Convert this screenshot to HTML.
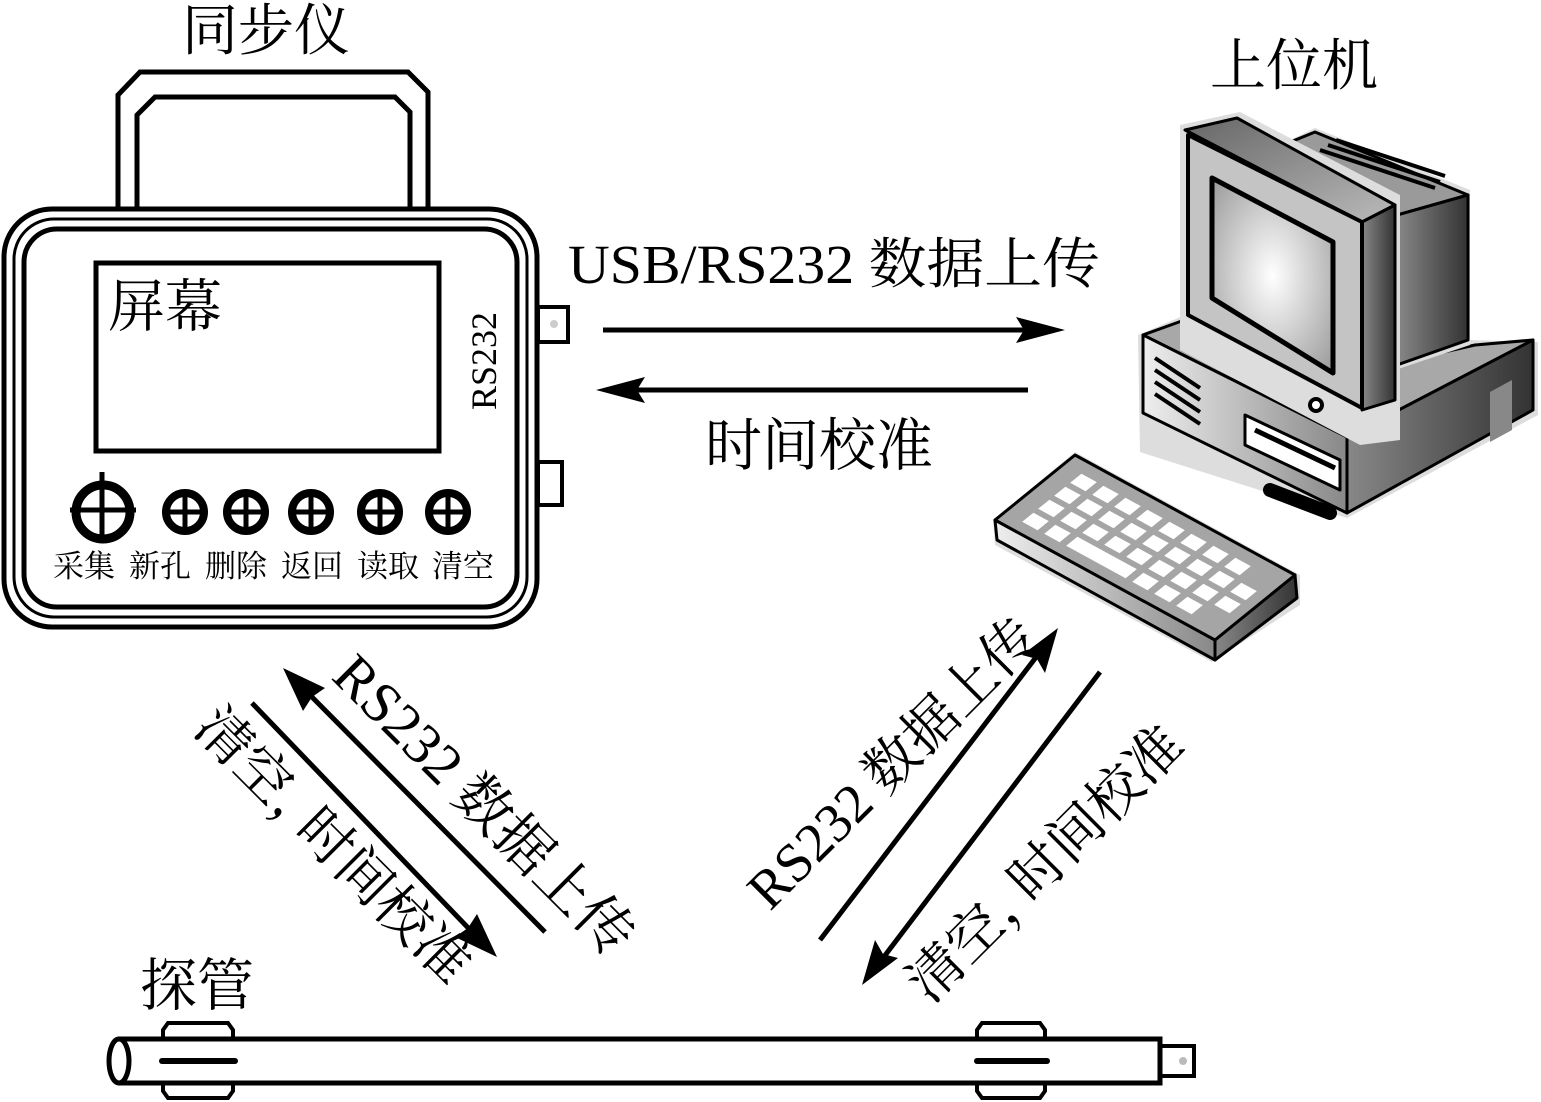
<!DOCTYPE html>
<html><head><meta charset="utf-8"><style>
html,body{margin:0;padding:0;background:#fff;}
svg{display:block;}
text{font-family:"Liberation Serif","Noto Serif CJK SC","Noto Sans CJK SC",serif;fill:#000;}
</style></head><body>
<svg width="1541" height="1102" viewBox="0 0 1541 1102" xmlns="http://www.w3.org/2000/svg">
<defs>
<radialGradient id="scr" cx="0.5" cy="0.5" r="0.7"><stop offset="0" stop-color="#fff"/><stop offset="1" stop-color="#999"/></radialGradient>
<linearGradient id="g3" x1="0" y1="0" x2="1" y2="0"><stop offset="0" stop-color="#888"/><stop offset="1" stop-color="#333"/></linearGradient>
<linearGradient id="g4" x1="0" y1="0" x2="1" y2="0"><stop offset="0" stop-color="#eee"/><stop offset="1" stop-color="#888"/></linearGradient>
<linearGradient id="g5" x1="0" y1="0" x2="1" y2="1"><stop offset="0" stop-color="#666"/><stop offset="1" stop-color="#bbb"/></linearGradient>
</defs>

<path d="M118 212 V95 L140 72 H408 L428 92 V212" fill="none" stroke="#000" stroke-width="5"/>
<path d="M137 212 V115 L155 97 H395 L410 112 V212" fill="none" stroke="#000" stroke-width="5"/>
<rect x="4" y="209" width="533" height="418" rx="48" fill="#fff" stroke="#000" stroke-width="5"/>
<rect x="14" y="219" width="513" height="398" rx="40" fill="none" stroke="#000" stroke-width="3"/>
<rect x="24" y="229" width="493" height="378" rx="33" fill="none" stroke="#000" stroke-width="5"/>
<rect x="96" y="263" width="343" height="188" fill="#fff" stroke="#000" stroke-width="5"/>
<text x="108" y="326" font-size="57">屏幕</text>
<text transform="translate(496,410) rotate(-90)" font-size="36">RS232</text>
<rect x="538" y="307" width="30" height="35" fill="#fff" stroke="#000" stroke-width="4"/>
<circle cx="554" cy="324" r="4" fill="#ccc"/>
<rect x="538" y="462" width="24" height="43" fill="#fff" stroke="#000" stroke-width="4"/>
<g stroke="#000" fill="none">
<circle cx="103" cy="512" r="27" stroke-width="9"/>
<line x1="70" y1="510" x2="136" y2="510" stroke-width="5"/>
<line x1="102" y1="472" x2="102" y2="540" stroke-width="5"/>
</g>
<g stroke="#000">
<g><circle cx="185" cy="512" r="19" fill="#fff" stroke-width="8"/><line x1="167" y1="512" x2="203" y2="512" stroke-width="5"/><line x1="185" y1="494" x2="185" y2="530" stroke-width="5"/></g>
<g><circle cx="246" cy="512" r="19" fill="#fff" stroke-width="8"/><line x1="228" y1="512" x2="264" y2="512" stroke-width="5"/><line x1="246" y1="494" x2="246" y2="530" stroke-width="5"/></g>
<g><circle cx="311" cy="512" r="19" fill="#fff" stroke-width="8"/><line x1="293" y1="512" x2="329" y2="512" stroke-width="5"/><line x1="311" y1="494" x2="311" y2="530" stroke-width="5"/></g>
<g><circle cx="380" cy="512" r="19" fill="#fff" stroke-width="8"/><line x1="362" y1="512" x2="398" y2="512" stroke-width="5"/><line x1="380" y1="494" x2="380" y2="530" stroke-width="5"/></g>
<g><circle cx="448" cy="512" r="19" fill="#fff" stroke-width="8"/><line x1="430" y1="512" x2="466" y2="512" stroke-width="5"/><line x1="448" y1="494" x2="448" y2="530" stroke-width="5"/></g>
</g>
<g font-size="31">
<text x="53" y="577">采集</text>
<text x="129" y="577">新孔</text>
<text x="205" y="577">删除</text>
<text x="281" y="577">返回</text>
<text x="357" y="577">读取</text>
<text x="432" y="577">清空</text>
</g>
<text x="182" y="50" font-size="56">同步仪</text>
<text x="1210" y="85" font-size="56">上位机</text>

<line x1="603" y1="330" x2="1030" y2="330" stroke="#000" stroke-width="5"/>
<polygon points="1065,330 1016,317 1024,330 1016,343" fill="#000"/>
<line x1="1028" y1="390" x2="630" y2="390" stroke="#000" stroke-width="5"/>
<polygon points="596,390 645,377 637,390 645,403" fill="#000"/>
<text x="568" y="283" font-size="55" textLength="532" lengthAdjust="spacingAndGlyphs">USB/RS232 数据上传</text>
<text x="705" y="465" font-size="57">时间校准</text>

<line x1="545" y1="932" x2="305" y2="690" stroke="#000" stroke-width="5"/>
<polygon points="283,668 325,688 312,697 303,711" fill="#000"/>
<line x1="252" y1="703" x2="475" y2="935" stroke="#000" stroke-width="5"/>
<polygon points="497,957 455,937 468,928 477,914" fill="#000"/>
<text transform="translate(330,678) rotate(45)" font-size="57">RS232 数据上传</text>
<text transform="translate(192,730) rotate(45)" font-size="55">清空，<tspan dx="-22">时间校准</tspan></text>

<line x1="820" y1="940" x2="1040" y2="652" stroke="#000" stroke-width="5"/>
<polygon points="1058,628 1045,673 1037,659 1022,655" fill="#000"/>
<line x1="1100" y1="672" x2="880" y2="962" stroke="#000" stroke-width="5"/>
<polygon points="862,985 875,940 883,954 898,958" fill="#000"/>
<text transform="translate(770,912) rotate(-45)" font-size="55">RS232 数据上传</text>
<text transform="translate(930,1005) rotate(-45)" font-size="55">清空，<tspan dx="-22">时间校准</tspan></text>

<text x="140" y="1005" font-size="57">探管</text>
<g stroke="#000" stroke-width="4" fill="#fff">
<path d="M163 1038 V1030 L168 1023 H228 L233 1030 V1038"/>
<path d="M163 1083 V1091 L168 1098 H228 L233 1091 V1083"/>
<path d="M977 1038 V1030 L982 1023 H1040 L1045 1030 V1038"/>
<path d="M977 1083 V1091 L982 1098 H1040 L1045 1091 V1083"/>
<rect x="1160" y="1046" width="34" height="30"/>
<path d="M118 1039 H1160 V1083 H118" stroke-width="5"/>
<ellipse cx="119" cy="1061" rx="10" ry="22" stroke-width="5"/>
</g>
<circle cx="1183" cy="1061" r="4" fill="#bbb"/>
<line x1="162" y1="1061" x2="235" y2="1061" stroke="#000" stroke-width="6" stroke-linecap="round"/>
<line x1="977" y1="1061" x2="1047" y2="1061" stroke="#000" stroke-width="6" stroke-linecap="round"/>

<g stroke-linejoin="round">
<polygon points="1138,335 1185,315 1395,360 1470,340 1538,342 1538,415 1347,518 1140,452" fill="#ddd"/>
<polygon points="1143,335 1190,318 1400,362 1475,345 1533,340 1347,437" fill="#a8a8a8" stroke="#000" stroke-width="3"/>
<polygon points="1143,335 1347,437 1347,513 1143,413" fill="url(#g4)" stroke="#000" stroke-width="3"/>
<polygon points="1347,437 1533,340 1533,410 1347,513" fill="url(#g3)" stroke="#000" stroke-width="3"/>
<polygon points="1490,392 1512,380 1512,430 1490,442" fill="#888"/>
<g stroke="#000" stroke-width="4">
<line x1="1155" y1="358" x2="1200" y2="388"/><line x1="1155" y1="370" x2="1200" y2="400"/><line x1="1155" y1="382" x2="1200" y2="412"/><line x1="1155" y1="394" x2="1200" y2="424"/>
</g>
<polygon points="1245,415 1340,460 1340,490 1245,445" fill="#fff" stroke="#000" stroke-width="3"/>
<line x1="1255" y1="430" x2="1335" y2="468" stroke="#000" stroke-width="5"/>
<line x1="1270" y1="490" x2="1330" y2="513" stroke="#000" stroke-width="14" stroke-linecap="round"/>
<polygon points="1280,145 1315,128 1470,190 1470,345 1395,370 1280,300" fill="#ddd"/>
<polygon points="1283,145 1315,132 1468,195 1397,215" fill="#9a9a9a" stroke="#000" stroke-width="3"/>
<polygon points="1397,215 1468,195 1468,340 1397,365" fill="url(#g3)" stroke="#000" stroke-width="3"/>
<g stroke="#000" stroke-width="4"><line x1="1320" y1="150" x2="1435" y2="188"/><line x1="1328" y1="145" x2="1440" y2="182"/><line x1="1336" y1="140" x2="1445" y2="176"/></g>
<polygon points="1180,125 1240,112 1400,195 1400,440 1360,445 1180,350" fill="#ddd"/>
<polygon points="1185,130 1237,118 1395,205 1362,222" fill="url(#g5)" stroke="#000" stroke-width="3"/>
<polygon points="1362,222 1395,205 1395,400 1362,410" fill="url(#g3)" stroke="#000" stroke-width="3"/>
<polygon points="1188,135 1362,222 1362,408 1188,315" fill="#c4c4c4" stroke="#000" stroke-width="4"/>
<polygon points="1212,178 1333,242 1333,373 1212,298" fill="url(#scr)" stroke="#000" stroke-width="5"/>
<circle cx="1316" cy="405" r="6" fill="#fff" stroke="#000" stroke-width="4"/>
<polygon points="993,520 1075,452 1300,575 1300,605 1212,662 995,545" fill="#ddd"/>
<polygon points="995,520 1215,640 1215,660 997,540" fill="url(#g4)" stroke="#000" stroke-width="3"/>
<polygon points="1215,640 1295,575 1297,598 1215,660" fill="url(#g3)" stroke="#000" stroke-width="3"/>
<polygon points="995,520 1075,455 1295,575 1215,640" fill="#a5a5a5" stroke="#000" stroke-width="3"/>
<g transform="matrix(220,120,80,-65,995,520)" fill="#fff">
<rect x="0.08" y="0.12" width="0.07" height="0.14"/><rect x="0.18" y="0.12" width="0.07" height="0.14"/><rect x="0.28" y="0.12" width="0.27" height="0.14"/><rect x="0.58" y="0.12" width="0.07" height="0.14"/><rect x="0.68" y="0.12" width="0.07" height="0.14"/><rect x="0.78" y="0.12" width="0.07" height="0.14"/>
<rect x="0.08" y="0.32" width="0.07" height="0.14"/><rect x="0.18" y="0.32" width="0.07" height="0.14"/><rect x="0.28" y="0.32" width="0.07" height="0.14"/><rect x="0.38" y="0.32" width="0.07" height="0.14"/><rect x="0.48" y="0.32" width="0.07" height="0.14"/><rect x="0.58" y="0.32" width="0.07" height="0.14"/><rect x="0.68" y="0.32" width="0.07" height="0.14"/><rect x="0.78" y="0.32" width="0.07" height="0.14"/><rect x="0.88" y="0.32" width="0.07" height="0.14"/>
<rect x="0.08" y="0.52" width="0.07" height="0.14"/><rect x="0.18" y="0.52" width="0.07" height="0.14"/><rect x="0.28" y="0.52" width="0.07" height="0.14"/><rect x="0.38" y="0.52" width="0.07" height="0.14"/><rect x="0.48" y="0.52" width="0.07" height="0.14"/><rect x="0.58" y="0.52" width="0.07" height="0.14"/><rect x="0.68" y="0.52" width="0.07" height="0.14"/><rect x="0.78" y="0.52" width="0.07" height="0.14"/><rect x="0.88" y="0.52" width="0.07" height="0.14"/>
<rect x="0.08" y="0.72" width="0.07" height="0.14"/><rect x="0.18" y="0.72" width="0.07" height="0.14"/><rect x="0.28" y="0.72" width="0.07" height="0.14"/><rect x="0.38" y="0.72" width="0.07" height="0.14"/><rect x="0.48" y="0.72" width="0.07" height="0.14"/><rect x="0.58" y="0.72" width="0.07" height="0.14"/><rect x="0.68" y="0.72" width="0.07" height="0.14"/><rect x="0.78" y="0.72" width="0.07" height="0.14"/>
</g>
</g>
</svg>
</body></html>
